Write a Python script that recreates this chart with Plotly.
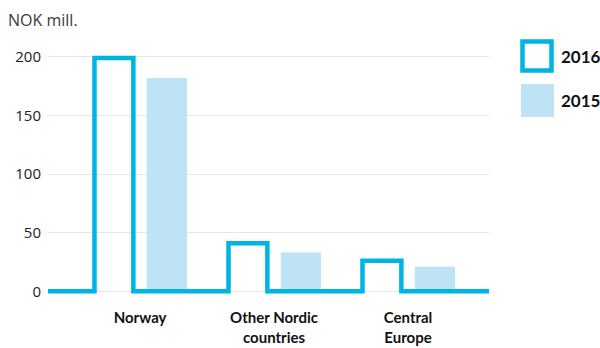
import plotly.graph_objects as go

# Data (NOK mill.)
categories = ["Norway", "Other Nordic<br>countries", "Central<br>Europe"]
values_2016 = [199, 41, 26]
values_2015 = [182, 33, 21]
years = ["2016", "2015"]
y_ticks = [0, 50, 100, 150, 200]

CYAN = "#00b5e4"
LIGHT = "#bee3f5"
W, H = 600, 348
ML, MR, MT, MB = 48, 111, 51, 45
X_RANGE = [-0.687, 2.604]
Y_RANGE = [-10, 205]

# 2016 drawn as an open outline rising from the baseline (no bottom edge)
L_OFF, R_OFF = -0.34, -0.05
xs, ys = [X_RANGE[0]], [0]
for i, v in enumerate(values_2016):
    xs += [i + L_OFF, i + L_OFF, i + R_OFF, i + R_OFF]
    ys += [0, v, v, 0]
xs.append(X_RANGE[1])
ys.append(0)

fig = go.Figure()
fig.add_trace(go.Bar(
    x=list(range(len(categories))), y=values_2015, name=years[1],
    width=0.3, offset=0.05, marker=dict(color=LIGHT, line=dict(width=0)),
    hoverinfo="skip",
))
fig.add_trace(go.Scatter(
    x=xs, y=ys, mode="lines", name=years[0],
    line=dict(color=CYAN, width=4.5), hoverinfo="skip",
))

pw, ph = W - ML - MR, H - MT - MB


def px_x(p):
    return (p - ML) / pw


def px_y(p):
    return (H - MB - p) / ph


# Legend squares and labels
fig.add_shape(type="rect", xref="paper", yref="paper",
              x0=px_x(522.5), x1=px_x(551.5), y0=px_y(70.5), y1=px_y(41.5),
              line=dict(color=CYAN, width=4.5), fillcolor="white")
fig.add_shape(type="rect", xref="paper", yref="paper",
              x0=px_x(521), x1=px_x(554), y0=px_y(117), y1=px_y(84),
              line=dict(width=0), fillcolor=LIGHT)
for label, yy in zip(years, [56.5, 100]):
    fig.add_annotation(text=label, xref="paper", yref="paper",
                       x=px_x(559), y=px_y(yy), xanchor="left", yanchor="middle",
                       showarrow=False,
                       font=dict(family="Lato", size=17, color="#111111", weight="bold"))

fig.update_layout(
    width=W, height=H, margin=dict(l=ML, r=MR, t=MT, b=MB),
    plot_bgcolor="white", paper_bgcolor="white", showlegend=False,
    title=dict(text="NOK mill.", xref="container", yref="container",
               x=8 / W, y=1 - 20 / H, xanchor="left", yanchor="middle",
               font=dict(family="Open Sans", size=16, color="#3a3a3a")),
    xaxis=dict(range=X_RANGE, tickvals=list(range(len(categories))),
               ticktext=categories, showgrid=False, zeroline=False,
               showline=False, ticks="", automargin=False, ticklabelstandoff=4,
               tickfont=dict(family="Lato", size=15, color="#111111", weight="bold")),
    yaxis=dict(range=Y_RANGE, tickvals=y_ticks, showgrid=True,
               gridcolor="#e6e6e6", gridwidth=1, zeroline=False,
               showline=False, ticks="", ticklabelstandoff=6, automargin=False,
               tickfont=dict(family="Open Sans", size=15, color="#222222")),
)

fig.write_html("out.html")
